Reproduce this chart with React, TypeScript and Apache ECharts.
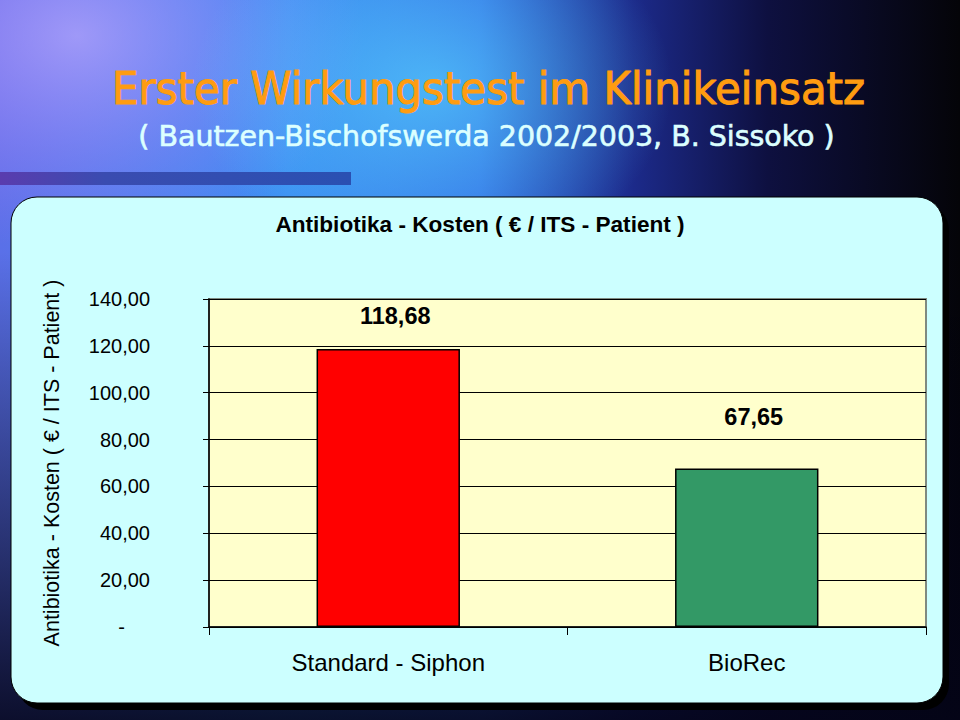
import React, { useEffect, useRef } from "react";
import * as echarts from "echarts";

const categories = ["Standard - Siphon", "BioRec"];
const costs = [118.68, 67.65];
const barColors = ["#ff0000", "#339966"];
const yTicks = [0, 20, 40, 60, 80, 100, 120, 140];
const slideTitle = "Erster Wirkungstest im Klinikeinsatz";
const slideSubtitle = "( Bautzen-Bischofswerda 2002/2003, B. Sissoko )";
const chartTitle = "Antibiotika - Kosten ( € / ITS - Patient )";
const yAxisName = "Antibiotika - Kosten ( € / ITS - Patient )";

const fmt = (v: number) => v.toFixed(2).replace(".", ",");

function measure(text: string, font: string): number {
  const c = document.createElement("canvas").getContext("2d");
  if (!c) return text.length * 20;
  c.font = font;
  return c.measureText(text).width;
}

export default function App() {
  const ref = useRef<HTMLDivElement>(null);

  useEffect(() => {
    document.body.style.margin = "0";
    if (!ref.current) return;
    const chart = echarts.init(ref.current, undefined, { renderer: "svg" });

    const fam = '"DejaVu Sans Condensed", "DejaVu Sans"';
    const titleFont = "44px " + fam;
    const subFont = "29px " + fam;
    const titleScale = 753 / measure(slideTitle, titleFont);
    const subScale = 697 / measure(slideSubtitle, subFont);

    const labelLift = [21, 40];

    const option: any = {
      animation: false,
      backgroundColor: "#05050f",
      graphic: [
        {
          type: "rect",
          z: -100,
          silent: true,
          shape: { x: 0, y: 0, width: 960, height: 720 },
          style: {
            fill: new echarts.graphic.LinearGradient(0, 0, 1, 0, [
              { offset: 0, color: "#5a70e8" },
              { offset: 0.3, color: "#3c8ef2" },
              { offset: 0.5, color: "#3470e6" },
              { offset: 0.66, color: "#1c2a8a" },
              { offset: 0.8, color: "#0e1040" },
              { offset: 1, color: "#040408" },
            ]),
          },
        },
        {
          type: "rect",
          z: -99,
          silent: true,
          shape: { x: 0, y: 0, width: 960, height: 720 },
          style: {
            fill: new echarts.graphic.RadialGradient(0.08, 0.05, 0.3, [
              { offset: 0, color: "rgba(200,170,255,0.65)" },
              { offset: 1, color: "rgba(180,120,255,0)" },
            ]),
          },
        },
        {
          type: "rect",
          z: -98,
          silent: true,
          shape: { x: 0, y: 0, width: 960, height: 720 },
          style: {
            fill: new echarts.graphic.RadialGradient(0.45, 0.12, 0.25, [
              { offset: 0, color: "rgba(90,220,255,0.6)" },
              { offset: 1, color: "rgba(90,220,255,0)" },
            ]),
          },
        },
        {
          type: "rect",
          z: -97,
          silent: true,
          shape: { x: 0, y: 0, width: 960, height: 720 },
          style: {
            fill: new echarts.graphic.LinearGradient(0, 0, 0, 1, [
              { offset: 0, color: "rgba(0,0,20,0)" },
              { offset: 0.35, color: "rgba(0,0,20,0)" },
              { offset: 1, color: "rgba(4,4,24,0.9)" },
            ]),
          },
        },
        {
          type: "rect",
          z: -90,
          silent: true,
          shape: { x: 0, y: 172, width: 351, height: 13 },
          style: {
            fill: new echarts.graphic.LinearGradient(0, 0, 1, 0, [
              { offset: 0, color: "#5a3cae" },
              { offset: 0.3, color: "#3a4cb0" },
              { offset: 1, color: "#2a50b2" },
            ]),
          },
        },
        {
          type: "text",
          z: -80,
          silent: true,
          x: 488.5,
          y: 89,
          scaleX: titleScale,
          style: {
            text: slideTitle,
            font: titleFont,
            fill: "#ff9c10",
            stroke: "#ff9c10",
            lineWidth: 1,
            align: "center",
            verticalAlign: "middle",
            shadowColor: "rgba(0,0,0,0.9)",
            shadowOffsetX: 2,
            shadowOffsetY: 2,
            shadowBlur: 2,
          },
        },
        {
          type: "text",
          z: -80,
          silent: true,
          x: 486.5,
          y: 136,
          scaleX: subScale,
          style: {
            text: slideSubtitle,
            font: subFont,
            fill: "#dcffff",
            stroke: "#dcffff",
            lineWidth: 0.6,
            align: "center",
            verticalAlign: "middle",
            shadowColor: "rgba(0,0,0,0.9)",
            shadowOffsetX: 2,
            shadowOffsetY: 2,
            shadowBlur: 2,
          },
        },
        {
          type: "rect",
          z: -60,
          silent: true,
          shape: { x: 17, y: 204, width: 932, height: 506, r: 26 },
          style: { fill: "#000000" },
        },
        {
          type: "rect",
          z: -59,
          silent: true,
          shape: { x: 11, y: 197, width: 932, height: 506, r: 26 },
          style: { fill: "#ccffff", stroke: "#000000", lineWidth: 1 },
        },
      ],
      title: {
        text: chartTitle,
        left: "center",
        top: 208,
        textStyle: {
          fontFamily: "Liberation Sans",
          fontWeight: "bold",
          fontSize: 22.6,
          color: "#000",
        },
      },
      grid: {
        left: 209,
        right: 34,
        top: 299,
        bottom: 93,
        show: true,
        backgroundColor: "#ffffcc",
        borderColor: "#7f8a80",
        borderWidth: 2,
      },
      xAxis: {
        type: "category",
        data: categories,
        axisLine: { show: true, lineStyle: { color: "#000", width: 1.5 } },
        axisTick: { show: true, length: 8, lineStyle: { color: "#000", width: 1 } },
        axisLabel: {
          fontFamily: "Liberation Sans",
          fontSize: 24,
          color: "#000",
          margin: 23,
        },
        splitLine: { show: false },
      },
      yAxis: {
        type: "value",
        min: yTicks[0],
        max: yTicks[yTicks.length - 1],
        interval: yTicks[1] - yTicks[0],
        name: yAxisName,
        nameLocation: "middle",
        nameGap: 146,
        nameRotate: 90,
        nameTextStyle: {
          fontFamily: "Liberation Sans",
          fontSize: 21.5,
          color: "#000",
        },
        axisLine: { show: true, lineStyle: { color: "#000", width: 1.5 } },
        axisTick: { show: true, length: 6, lineStyle: { color: "#000", width: 1 } },
        splitLine: { show: true, lineStyle: { color: "#000", width: 1 } },
        axisLabel: {
          fontFamily: "Liberation Sans",
          fontSize: 20,
          color: "#000",
          margin: 59,
          formatter: (v: number) => (v === 0 ? "{d|-}" : fmt(v)),
          rich: {
            d: {
              fontFamily: "Liberation Sans",
              fontSize: 20,
              color: "#000",
              padding: [0, 25, 0, 0],
            },
          },
        },
      },
      series: [
        {
          type: "bar",
          barWidth: "40%",
          data: costs.map((v, i) => ({
            value: v,
            itemStyle: { color: barColors[i] },
            label: { distance: labelLift[i] },
          })),
          itemStyle: { borderColor: "#000", borderWidth: 1.5 },
          label: {
            show: true,
            position: "top",
            offset: [7, 0],
            formatter: (p: any) => fmt(p.value),
            fontFamily: "Liberation Sans",
            fontWeight: "bold",
            fontSize: 23.5,
            color: "#000",
          },
        },
      ],
    };

    chart.setOption(option);
    return () => chart.dispose();
  }, []);

  return (
    <div
      ref={ref}
      style={{ position: "absolute", left: 0, top: 0, width: 960, height: 720 }}
    />
  );
}
